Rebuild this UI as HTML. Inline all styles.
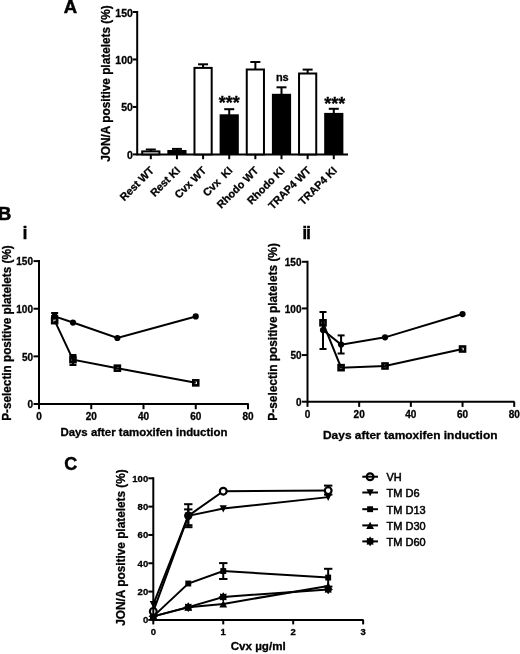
<!DOCTYPE html>
<html><head><meta charset="utf-8"><style>
html,body{margin:0;padding:0;background:#fff;}
svg{display:block;font-family:"Liberation Sans", sans-serif;will-change:transform;}
</style></head><body>
<svg width="520" height="654" viewBox="0 0 520 654" font-family='"Liberation Sans", sans-serif'>
<rect width="520" height="654" fill="#fff"/>
<text x="63.80" y="13.30" font-size="18.5" font-weight="bold" text-anchor="start" stroke="#000" stroke-width="0.5">A</text>
<line x1="137.20" y1="11.00" x2="137.20" y2="155.40" stroke="#000" stroke-width="2"/>
<line x1="137.20" y1="154.40" x2="348.00" y2="154.40" stroke="#000" stroke-width="2"/>
<line x1="132.80" y1="154.40" x2="137.20" y2="154.40" stroke="#000" stroke-width="2"/>
<text x="132.90" y="158.90" font-size="10.5" font-weight="bold" text-anchor="end" stroke="#000" stroke-width="0.3">0</text>
<line x1="132.80" y1="106.94" x2="137.20" y2="106.94" stroke="#000" stroke-width="2"/>
<text x="132.90" y="111.44" font-size="10.5" font-weight="bold" text-anchor="end" stroke="#000" stroke-width="0.3">50</text>
<line x1="132.80" y1="59.47" x2="137.20" y2="59.47" stroke="#000" stroke-width="2"/>
<text x="132.90" y="63.97" font-size="10.5" font-weight="bold" text-anchor="end" stroke="#000" stroke-width="0.3">100</text>
<line x1="132.80" y1="12.00" x2="137.20" y2="12.00" stroke="#000" stroke-width="2"/>
<text x="132.90" y="16.50" font-size="10.5" font-weight="bold" text-anchor="end" stroke="#000" stroke-width="0.3">150</text>
<line x1="150.80" y1="154.40" x2="150.80" y2="159.20" stroke="#000" stroke-width="2"/>
<line x1="176.94" y1="154.40" x2="176.94" y2="159.20" stroke="#000" stroke-width="2"/>
<line x1="203.08" y1="154.40" x2="203.08" y2="159.20" stroke="#000" stroke-width="2"/>
<line x1="229.22" y1="154.40" x2="229.22" y2="159.20" stroke="#000" stroke-width="2"/>
<line x1="255.36" y1="154.40" x2="255.36" y2="159.20" stroke="#000" stroke-width="2"/>
<line x1="281.50" y1="154.40" x2="281.50" y2="159.20" stroke="#000" stroke-width="2"/>
<line x1="307.64" y1="154.40" x2="307.64" y2="159.20" stroke="#000" stroke-width="2"/>
<line x1="333.78" y1="154.40" x2="333.78" y2="159.20" stroke="#000" stroke-width="2"/>
<line x1="150.80" y1="149.50" x2="150.80" y2="151.40" stroke="#000" stroke-width="2"/>
<line x1="145.80" y1="149.50" x2="155.80" y2="149.50" stroke="#000" stroke-width="2"/>
<rect x="142.20" y="151.40" width="17.2" height="3.00" fill="#fff" stroke="#000" stroke-width="2"/>
<line x1="176.94" y1="148.90" x2="176.94" y2="151.00" stroke="#000" stroke-width="2"/>
<line x1="171.94" y1="148.90" x2="181.94" y2="148.90" stroke="#000" stroke-width="2"/>
<rect x="167.34" y="150.00" width="19.2" height="4.40" fill="#000"/>
<line x1="203.08" y1="64.30" x2="203.08" y2="67.90" stroke="#000" stroke-width="2"/>
<line x1="198.08" y1="64.30" x2="208.08" y2="64.30" stroke="#000" stroke-width="2"/>
<rect x="194.48" y="67.90" width="17.2" height="86.50" fill="#fff" stroke="#000" stroke-width="2"/>
<line x1="229.22" y1="109.20" x2="229.22" y2="115.30" stroke="#000" stroke-width="2"/>
<line x1="224.22" y1="109.20" x2="234.22" y2="109.20" stroke="#000" stroke-width="2"/>
<rect x="219.62" y="114.30" width="19.2" height="40.10" fill="#000"/>
<line x1="255.36" y1="62.00" x2="255.36" y2="69.50" stroke="#000" stroke-width="2"/>
<line x1="250.36" y1="62.00" x2="260.36" y2="62.00" stroke="#000" stroke-width="2"/>
<rect x="246.76" y="69.50" width="17.2" height="84.90" fill="#fff" stroke="#000" stroke-width="2"/>
<line x1="281.50" y1="87.30" x2="281.50" y2="94.80" stroke="#000" stroke-width="2"/>
<line x1="276.50" y1="87.30" x2="286.50" y2="87.30" stroke="#000" stroke-width="2"/>
<rect x="271.90" y="93.80" width="19.2" height="60.60" fill="#000"/>
<line x1="307.64" y1="69.60" x2="307.64" y2="73.50" stroke="#000" stroke-width="2"/>
<line x1="302.64" y1="69.60" x2="312.64" y2="69.60" stroke="#000" stroke-width="2"/>
<rect x="299.04" y="73.50" width="17.2" height="80.90" fill="#fff" stroke="#000" stroke-width="2"/>
<line x1="333.78" y1="108.80" x2="333.78" y2="113.90" stroke="#000" stroke-width="2"/>
<line x1="328.78" y1="108.80" x2="338.78" y2="108.80" stroke="#000" stroke-width="2"/>
<rect x="324.18" y="112.90" width="19.2" height="41.50" fill="#000"/>
<text x="154.70" y="171.10" font-size="10.75" font-weight="bold" text-anchor="end" transform="rotate(-45 154.70 171.10)" stroke="#000" stroke-width="0.3">Rest WT</text>
<text x="180.84" y="171.10" font-size="10.75" font-weight="bold" text-anchor="end" transform="rotate(-45 180.84 171.10)" stroke="#000" stroke-width="0.3">Rest KI</text>
<text x="206.98" y="171.10" font-size="10.75" font-weight="bold" text-anchor="end" transform="rotate(-45 206.98 171.10)" stroke="#000" stroke-width="0.3">Cvx WT</text>
<text x="233.12" y="171.10" font-size="10.75" font-weight="bold" text-anchor="end" transform="rotate(-45 233.12 171.10)" stroke="#000" stroke-width="0.3">Cvx&#160;&#160;KI</text>
<text x="259.26" y="171.10" font-size="10.75" font-weight="bold" text-anchor="end" transform="rotate(-45 259.26 171.10)" stroke="#000" stroke-width="0.3">Rhodo WT</text>
<text x="285.40" y="171.10" font-size="10.75" font-weight="bold" text-anchor="end" transform="rotate(-45 285.40 171.10)" stroke="#000" stroke-width="0.3">Rhodo KI</text>
<text x="311.54" y="171.10" font-size="10.75" font-weight="bold" text-anchor="end" transform="rotate(-45 311.54 171.10)" stroke="#000" stroke-width="0.3">TRAP4 WT</text>
<text x="337.68" y="171.10" font-size="10.75" font-weight="bold" text-anchor="end" transform="rotate(-45 337.68 171.10)" stroke="#000" stroke-width="0.3">TRAP4 KI</text>
<text x="229.22" y="108.60" font-size="18" font-weight="bold" text-anchor="middle" stroke="#000" stroke-width="0.3">***</text>
<text x="334.78" y="110.20" font-size="18" font-weight="bold" text-anchor="middle" stroke="#000" stroke-width="0.3">***</text>
<text x="282.30" y="80.70" font-size="11" font-weight="bold" text-anchor="middle" stroke="#000" stroke-width="0.3">ns</text>
<text x="110.20" y="83.50" font-size="12" font-weight="bold" text-anchor="middle" transform="rotate(-90 110.20 83.50)" stroke="#000" stroke-width="0.3" textLength="156.5" lengthAdjust="spacingAndGlyphs">JON/A positive platelets (%)</text>
<text x="-1.90" y="220.30" font-size="18.3" font-weight="bold" text-anchor="start" stroke="#000" stroke-width="0.6">B</text>
<text x="22.50" y="239.20" font-size="18" font-weight="bold" text-anchor="start" stroke="#000" stroke-width="0.3">i</text>
<line x1="39.00" y1="260.10" x2="39.00" y2="405.00" stroke="#000" stroke-width="2"/>
<line x1="39.00" y1="404.00" x2="248.80" y2="404.00" stroke="#000" stroke-width="2"/>
<line x1="33.50" y1="404.00" x2="39.00" y2="404.00" stroke="#000" stroke-width="2"/>
<text x="33.00" y="408.20" font-size="10" font-weight="bold" text-anchor="end" stroke="#000" stroke-width="0.3">0</text>
<line x1="33.50" y1="356.37" x2="39.00" y2="356.37" stroke="#000" stroke-width="2"/>
<text x="33.00" y="360.56" font-size="10" font-weight="bold" text-anchor="end" stroke="#000" stroke-width="0.3">50</text>
<line x1="33.50" y1="308.73" x2="39.00" y2="308.73" stroke="#000" stroke-width="2"/>
<text x="33.00" y="312.93" font-size="10" font-weight="bold" text-anchor="end" stroke="#000" stroke-width="0.3">100</text>
<line x1="33.50" y1="261.10" x2="39.00" y2="261.10" stroke="#000" stroke-width="2"/>
<text x="33.00" y="265.30" font-size="10" font-weight="bold" text-anchor="end" stroke="#000" stroke-width="0.3">150</text>
<line x1="39.00" y1="404.00" x2="39.00" y2="409.20" stroke="#000" stroke-width="2"/>
<text x="39.00" y="420.20" font-size="10" font-weight="bold" text-anchor="middle" stroke="#000" stroke-width="0.3">0</text>
<line x1="91.25" y1="404.00" x2="91.25" y2="409.20" stroke="#000" stroke-width="2"/>
<text x="91.25" y="420.20" font-size="10" font-weight="bold" text-anchor="middle" stroke="#000" stroke-width="0.3">20</text>
<line x1="143.50" y1="404.00" x2="143.50" y2="409.20" stroke="#000" stroke-width="2"/>
<text x="143.50" y="420.20" font-size="10" font-weight="bold" text-anchor="middle" stroke="#000" stroke-width="0.3">40</text>
<line x1="195.75" y1="404.00" x2="195.75" y2="409.20" stroke="#000" stroke-width="2"/>
<text x="195.75" y="420.20" font-size="10" font-weight="bold" text-anchor="middle" stroke="#000" stroke-width="0.3">60</text>
<line x1="248.00" y1="404.00" x2="248.00" y2="409.20" stroke="#000" stroke-width="2"/>
<text x="248.00" y="420.20" font-size="10" font-weight="bold" text-anchor="middle" stroke="#000" stroke-width="0.3">80</text>
<text x="60.40" y="435.80" font-size="11.5" font-weight="bold" text-anchor="start" stroke="#000" stroke-width="0.3" textLength="167.0" lengthAdjust="spacingAndGlyphs">Days after tamoxifen induction</text>
<text x="10.60" y="333.00" font-size="12" font-weight="bold" text-anchor="middle" transform="rotate(-90 10.60 333.00)" stroke="#000" stroke-width="0.3" textLength="175.5" lengthAdjust="spacingAndGlyphs">P-selectin positive platelets (%)</text>
<line x1="54.67" y1="313.00" x2="54.67" y2="316.00" stroke="#000" stroke-width="2"/>
<line x1="51.17" y1="313.00" x2="58.17" y2="313.00" stroke="#000" stroke-width="2"/>
<line x1="51.17" y1="316.00" x2="58.17" y2="316.00" stroke="#000" stroke-width="2"/>
<line x1="72.96" y1="355.00" x2="72.96" y2="365.00" stroke="#000" stroke-width="2"/>
<line x1="69.46" y1="355.00" x2="76.46" y2="355.00" stroke="#000" stroke-width="2"/>
<line x1="69.46" y1="365.00" x2="76.46" y2="365.00" stroke="#000" stroke-width="2"/>
<polyline points="54.67,316.35 72.96,322.54 117.38,337.98 195.75,316.45" fill="none" stroke="#000" stroke-width="2"/>
<polyline points="54.67,320.64 72.96,359.70 117.38,368.18 195.75,382.85" fill="none" stroke="#000" stroke-width="2"/>
<rect x="52.17" y="318.14" width="5.0" height="5.0" fill="none" stroke="#000" stroke-width="2.6"/>
<rect x="70.46" y="357.20" width="5.0" height="5.0" fill="none" stroke="#000" stroke-width="2.6"/>
<rect x="114.88" y="365.68" width="5.0" height="5.0" fill="none" stroke="#000" stroke-width="2.6"/>
<rect x="193.25" y="380.35" width="5.0" height="5.0" fill="none" stroke="#000" stroke-width="2.6"/>
<circle cx="54.67" cy="316.35" r="3.1" fill="#000"/>
<circle cx="72.96" cy="322.54" r="3.1" fill="#000"/>
<circle cx="117.38" cy="337.98" r="3.1" fill="#000"/>
<circle cx="195.75" cy="316.45" r="3.1" fill="#000"/>
<text x="302.30" y="239.20" font-size="18" font-weight="bold" text-anchor="start" stroke="#000" stroke-width="0.3" letter-spacing="-1.3">ii</text>
<line x1="307.50" y1="260.79" x2="307.50" y2="402.70" stroke="#000" stroke-width="2"/>
<line x1="307.50" y1="401.70" x2="514.50" y2="401.70" stroke="#000" stroke-width="2"/>
<line x1="302.00" y1="401.70" x2="307.50" y2="401.70" stroke="#000" stroke-width="2"/>
<text x="301.50" y="405.90" font-size="10" font-weight="bold" text-anchor="end" stroke="#000" stroke-width="0.3">0</text>
<line x1="302.00" y1="355.06" x2="307.50" y2="355.06" stroke="#000" stroke-width="2"/>
<text x="301.50" y="359.26" font-size="10" font-weight="bold" text-anchor="end" stroke="#000" stroke-width="0.3">50</text>
<line x1="302.00" y1="308.43" x2="307.50" y2="308.43" stroke="#000" stroke-width="2"/>
<text x="301.50" y="312.63" font-size="10" font-weight="bold" text-anchor="end" stroke="#000" stroke-width="0.3">100</text>
<line x1="302.00" y1="261.79" x2="307.50" y2="261.79" stroke="#000" stroke-width="2"/>
<text x="301.50" y="265.99" font-size="10" font-weight="bold" text-anchor="end" stroke="#000" stroke-width="0.3">150</text>
<line x1="307.50" y1="401.70" x2="307.50" y2="406.90" stroke="#000" stroke-width="2"/>
<text x="307.50" y="417.90" font-size="10" font-weight="bold" text-anchor="middle" stroke="#000" stroke-width="0.3">0</text>
<line x1="359.18" y1="401.70" x2="359.18" y2="406.90" stroke="#000" stroke-width="2"/>
<text x="359.18" y="417.90" font-size="10" font-weight="bold" text-anchor="middle" stroke="#000" stroke-width="0.3">20</text>
<line x1="410.86" y1="401.70" x2="410.86" y2="406.90" stroke="#000" stroke-width="2"/>
<text x="410.86" y="417.90" font-size="10" font-weight="bold" text-anchor="middle" stroke="#000" stroke-width="0.3">40</text>
<line x1="462.54" y1="401.70" x2="462.54" y2="406.90" stroke="#000" stroke-width="2"/>
<text x="462.54" y="417.90" font-size="10" font-weight="bold" text-anchor="middle" stroke="#000" stroke-width="0.3">60</text>
<line x1="514.22" y1="401.70" x2="514.22" y2="406.90" stroke="#000" stroke-width="2"/>
<text x="514.22" y="417.90" font-size="10" font-weight="bold" text-anchor="middle" stroke="#000" stroke-width="0.3">80</text>
<text x="323.00" y="438.75" font-size="11.5" font-weight="bold" text-anchor="start" stroke="#000" stroke-width="0.3" textLength="174.5" lengthAdjust="spacingAndGlyphs">Days after tamoxifen induction</text>
<text x="277.00" y="331.90" font-size="12" font-weight="bold" text-anchor="middle" transform="rotate(-90 277.00 331.90)" stroke="#000" stroke-width="0.3" textLength="177.5" lengthAdjust="spacingAndGlyphs">P-selectin positive platelets (%)</text>
<line x1="323.00" y1="312.00" x2="323.00" y2="349.00" stroke="#000" stroke-width="2"/>
<line x1="319.50" y1="312.00" x2="326.50" y2="312.00" stroke="#000" stroke-width="2"/>
<line x1="319.50" y1="349.00" x2="326.50" y2="349.00" stroke="#000" stroke-width="2"/>
<line x1="341.09" y1="335.40" x2="341.09" y2="353.50" stroke="#000" stroke-width="2"/>
<line x1="337.59" y1="335.40" x2="344.59" y2="335.40" stroke="#000" stroke-width="2"/>
<line x1="337.59" y1="353.50" x2="344.59" y2="353.50" stroke="#000" stroke-width="2"/>
<polyline points="323.00,329.98 341.09,344.62 385.02,337.34 462.54,314.03" fill="none" stroke="#000" stroke-width="2"/>
<polyline points="323.00,322.79 341.09,367.66 385.02,365.98 462.54,349.00" fill="none" stroke="#000" stroke-width="2"/>
<rect x="320.50" y="320.29" width="5.0" height="5.0" fill="none" stroke="#000" stroke-width="2.6"/>
<rect x="338.59" y="365.16" width="5.0" height="5.0" fill="none" stroke="#000" stroke-width="2.6"/>
<rect x="382.52" y="363.48" width="5.0" height="5.0" fill="none" stroke="#000" stroke-width="2.6"/>
<rect x="460.04" y="346.50" width="5.0" height="5.0" fill="none" stroke="#000" stroke-width="2.6"/>
<circle cx="323.00" cy="329.98" r="3.1" fill="#000"/>
<circle cx="341.09" cy="344.62" r="3.1" fill="#000"/>
<circle cx="385.02" cy="337.34" r="3.1" fill="#000"/>
<circle cx="462.54" cy="314.03" r="3.1" fill="#000"/>
<text x="64.30" y="470.00" font-size="18" font-weight="bold" text-anchor="start" stroke="#000" stroke-width="0.45">C</text>
<text x="258.20" y="650.30" font-size="10.8" font-weight="bold" text-anchor="middle" stroke="#000" stroke-width="0.3" textLength="55" lengthAdjust="spacingAndGlyphs">Cvx &#181;g/ml</text>
<text x="125.40" y="547.50" font-size="12" font-weight="bold" text-anchor="middle" transform="rotate(-90 125.40 547.50)" stroke="#000" stroke-width="0.3" textLength="156.5" lengthAdjust="spacingAndGlyphs">JON/A positive platelets (%)</text>
<polyline points="153.30,611.40 188.28,515.82 223.25,491.19 328.18,490.62" fill="none" stroke="#000" stroke-width="2"/>
<polyline points="153.30,604.32 188.28,515.82 223.25,508.60 328.18,497.13" fill="none" stroke="#000" stroke-width="2"/>
<polyline points="153.30,616.36 188.28,583.51 223.25,571.05 328.18,577.56" fill="none" stroke="#000" stroke-width="2"/>
<polyline points="153.30,616.36 188.28,607.16 223.25,603.90 328.18,585.92" fill="none" stroke="#000" stroke-width="2"/>
<polyline points="153.30,616.36 188.28,607.16 223.25,596.96 328.18,589.46" fill="none" stroke="#000" stroke-width="2"/>
<line x1="188.28" y1="504.20" x2="188.28" y2="527.20" stroke="#000" stroke-width="2"/>
<line x1="184.08" y1="504.20" x2="192.47" y2="504.20" stroke="#000" stroke-width="2"/>
<line x1="184.08" y1="527.20" x2="192.47" y2="527.20" stroke="#000" stroke-width="2"/>
<line x1="188.28" y1="509.40" x2="188.28" y2="525.20" stroke="#000" stroke-width="2"/>
<line x1="184.08" y1="509.40" x2="192.47" y2="509.40" stroke="#000" stroke-width="2"/>
<line x1="184.08" y1="525.20" x2="192.47" y2="525.20" stroke="#000" stroke-width="2"/>
<line x1="223.25" y1="563.10" x2="223.25" y2="579.00" stroke="#000" stroke-width="2"/>
<line x1="219.05" y1="563.10" x2="227.45" y2="563.10" stroke="#000" stroke-width="2"/>
<line x1="219.05" y1="579.00" x2="227.45" y2="579.00" stroke="#000" stroke-width="2"/>
<line x1="328.18" y1="568.80" x2="328.18" y2="586.60" stroke="#000" stroke-width="2"/>
<line x1="323.98" y1="568.80" x2="332.38" y2="568.80" stroke="#000" stroke-width="2"/>
<line x1="323.98" y1="586.60" x2="332.38" y2="586.60" stroke="#000" stroke-width="2"/>
<line x1="328.18" y1="485.60" x2="328.18" y2="494.60" stroke="#000" stroke-width="2"/>
<line x1="323.98" y1="485.60" x2="332.38" y2="485.60" stroke="#000" stroke-width="2"/>
<line x1="323.98" y1="494.60" x2="332.38" y2="494.60" stroke="#000" stroke-width="2"/>
<polygon points="153.30,611.56 154.56,613.31 156.69,612.97 156.35,615.10 158.10,616.36 156.35,617.62 156.69,619.75 154.56,619.41 153.30,621.16 152.04,619.41 149.91,619.75 150.25,617.62 148.50,616.36 150.25,615.10 149.91,612.97 152.04,613.31" fill="#000"/>
<polygon points="188.28,602.36 189.54,604.11 191.67,603.76 191.32,605.89 193.08,607.16 191.32,608.42 191.67,610.55 189.54,610.20 188.28,611.96 187.01,610.20 184.88,610.55 185.23,608.42 183.47,607.16 185.23,605.89 184.88,603.76 187.01,604.11" fill="#000"/>
<polygon points="223.25,592.16 224.51,593.91 226.64,593.57 226.30,595.70 228.05,596.96 226.30,598.22 226.64,600.35 224.51,600.01 223.25,601.76 221.99,600.01 219.86,600.35 220.20,598.22 218.45,596.96 220.20,595.70 219.86,593.57 221.99,593.91" fill="#000"/>
<polygon points="328.18,584.66 329.44,586.41 331.57,586.06 331.22,588.19 332.98,589.46 331.22,590.72 331.57,592.85 329.44,592.50 328.18,594.26 326.91,592.50 324.78,592.85 325.13,590.72 323.38,589.46 325.13,588.19 324.78,586.06 326.91,586.41" fill="#000"/>
<polygon points="149.40,619.86 157.20,619.86 153.30,612.66" fill="#000"/>
<polygon points="184.38,610.66 192.18,610.66 188.28,603.46" fill="#000"/>
<polygon points="219.35,607.40 227.15,607.40 223.25,600.20" fill="#000"/>
<polygon points="324.28,589.42 332.07,589.42 328.18,582.22" fill="#000"/>
<rect x="150.35" y="613.41" width="5.9" height="5.9" fill="#000"/>
<rect x="185.33" y="580.56" width="5.9" height="5.9" fill="#000"/>
<rect x="220.30" y="568.10" width="5.9" height="5.9" fill="#000"/>
<rect x="325.23" y="574.61" width="5.9" height="5.9" fill="#000"/>
<polygon points="149.70,601.02 156.90,601.02 153.30,608.12" fill="#000"/>
<polygon points="184.68,512.52 191.88,512.52 188.28,519.62" fill="#000"/>
<polygon points="219.65,505.30 226.85,505.30 223.25,512.40" fill="#000"/>
<polygon points="324.57,493.83 331.78,493.83 328.18,500.93" fill="#000"/>
<circle cx="153.30" cy="611.40" r="3.4" fill="#fff" stroke="#000" stroke-width="2.2"/>
<circle cx="223.25" cy="491.19" r="3.4" fill="#fff" stroke="#000" stroke-width="2.2"/>
<circle cx="328.18" cy="490.62" r="3.4" fill="#fff" stroke="#000" stroke-width="2.2"/>
<circle cx="188.28" cy="515.8" r="4.2" fill="#000"/>
<line x1="153.30" y1="477.30" x2="153.30" y2="620.90" stroke="#000" stroke-width="2"/>
<line x1="153.30" y1="619.90" x2="363.60" y2="619.90" stroke="#000" stroke-width="2"/>
<line x1="148.30" y1="619.90" x2="153.30" y2="619.90" stroke="#000" stroke-width="2"/>
<text x="148.20" y="623.20" font-size="9.5" font-weight="bold" text-anchor="end" stroke="#000" stroke-width="0.3">0</text>
<line x1="148.30" y1="591.58" x2="153.30" y2="591.58" stroke="#000" stroke-width="2"/>
<text x="148.20" y="594.88" font-size="9.5" font-weight="bold" text-anchor="end" stroke="#000" stroke-width="0.3">20</text>
<line x1="148.30" y1="563.26" x2="153.30" y2="563.26" stroke="#000" stroke-width="2"/>
<text x="148.20" y="566.56" font-size="9.5" font-weight="bold" text-anchor="end" stroke="#000" stroke-width="0.3">40</text>
<line x1="148.30" y1="534.94" x2="153.30" y2="534.94" stroke="#000" stroke-width="2"/>
<text x="148.20" y="538.24" font-size="9.5" font-weight="bold" text-anchor="end" stroke="#000" stroke-width="0.3">60</text>
<line x1="148.30" y1="506.62" x2="153.30" y2="506.62" stroke="#000" stroke-width="2"/>
<text x="148.20" y="509.92" font-size="9.5" font-weight="bold" text-anchor="end" stroke="#000" stroke-width="0.3">80</text>
<line x1="148.30" y1="478.30" x2="153.30" y2="478.30" stroke="#000" stroke-width="2"/>
<text x="148.20" y="481.60" font-size="9.5" font-weight="bold" text-anchor="end" stroke="#000" stroke-width="0.3">100</text>
<line x1="153.30" y1="619.90" x2="153.30" y2="624.40" stroke="#000" stroke-width="2"/>
<text x="153.30" y="635.30" font-size="9.5" font-weight="bold" text-anchor="middle" stroke="#000" stroke-width="0.3">0</text>
<line x1="223.25" y1="619.90" x2="223.25" y2="624.40" stroke="#000" stroke-width="2"/>
<text x="223.25" y="635.30" font-size="9.5" font-weight="bold" text-anchor="middle" stroke="#000" stroke-width="0.3">1</text>
<line x1="293.20" y1="619.90" x2="293.20" y2="624.40" stroke="#000" stroke-width="2"/>
<text x="293.20" y="635.30" font-size="9.5" font-weight="bold" text-anchor="middle" stroke="#000" stroke-width="0.3">2</text>
<line x1="363.15" y1="619.90" x2="363.15" y2="624.40" stroke="#000" stroke-width="2"/>
<text x="363.15" y="635.30" font-size="9.5" font-weight="bold" text-anchor="middle" stroke="#000" stroke-width="0.3">3</text>
<line x1="362.30" y1="476.70" x2="378.00" y2="476.70" stroke="#000" stroke-width="2"/>
<circle cx="370.10" cy="476.70" r="3.4" fill="none" stroke="#000" stroke-width="2.2"/>
<text x="386.50" y="481.00" font-size="11" font-weight="normal" text-anchor="start" stroke="#000" stroke-width="0.5">VH</text>
<line x1="362.30" y1="492.50" x2="378.00" y2="492.50" stroke="#000" stroke-width="2"/>
<polygon points="366.50,489.20 373.70,489.20 370.10,496.30" fill="#000"/>
<text x="386.50" y="496.80" font-size="11" font-weight="normal" text-anchor="start" stroke="#000" stroke-width="0.5">TM D6</text>
<line x1="362.30" y1="509.20" x2="378.00" y2="509.20" stroke="#000" stroke-width="2"/>
<rect x="367.15" y="506.25" width="5.9" height="5.9" fill="#000"/>
<text x="386.50" y="513.50" font-size="11" font-weight="normal" text-anchor="start" stroke="#000" stroke-width="0.5">TM D13</text>
<line x1="362.30" y1="525.40" x2="378.00" y2="525.40" stroke="#000" stroke-width="2"/>
<polygon points="366.20,528.90 374.00,528.90 370.10,521.70" fill="#000"/>
<text x="386.50" y="529.70" font-size="11" font-weight="normal" text-anchor="start" stroke="#000" stroke-width="0.5">TM D30</text>
<line x1="362.30" y1="541.40" x2="378.00" y2="541.40" stroke="#000" stroke-width="2"/>
<polygon points="370.10,536.60 371.36,538.35 373.49,538.01 373.15,540.14 374.90,541.40 373.15,542.66 373.49,544.79 371.36,544.45 370.10,546.20 368.84,544.45 366.71,544.79 367.05,542.66 365.30,541.40 367.05,540.14 366.71,538.01 368.84,538.35" fill="#000"/>
<text x="386.50" y="545.70" font-size="11" font-weight="normal" text-anchor="start" stroke="#000" stroke-width="0.5">TM D60</text>
</svg>
</body></html>
